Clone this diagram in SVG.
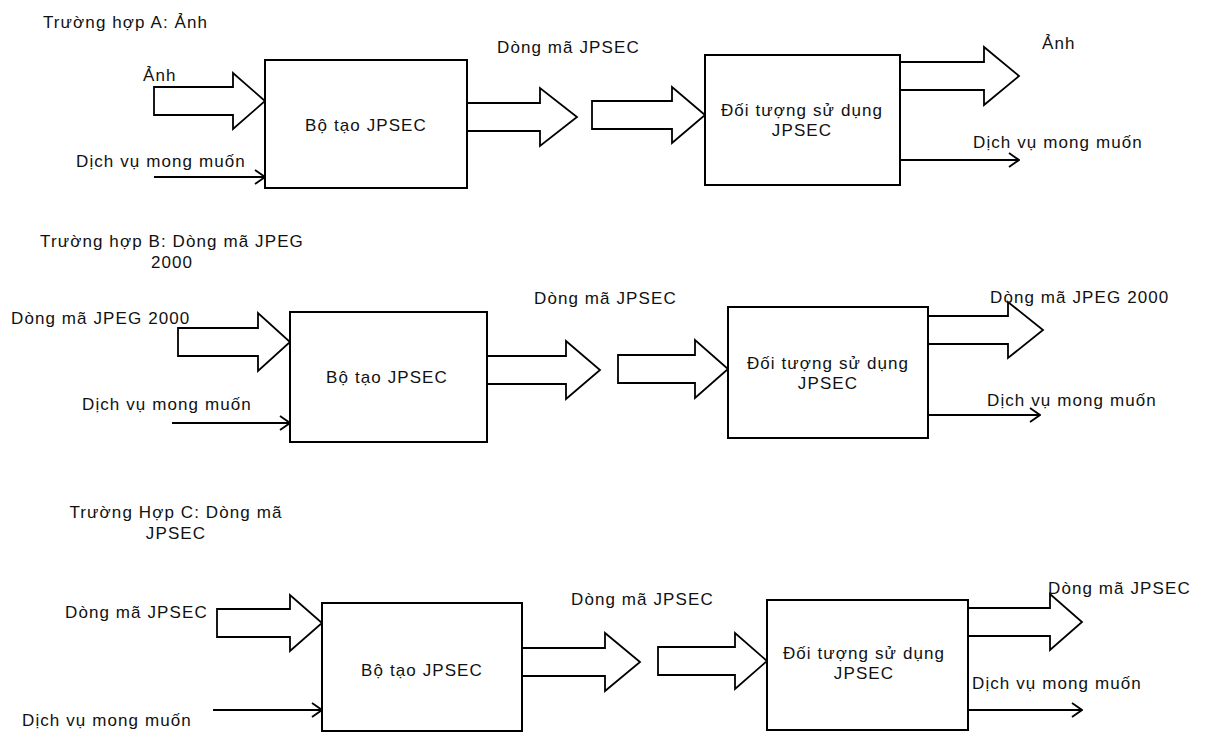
<svg xmlns="http://www.w3.org/2000/svg" width="1211" height="733" viewBox="0 0 1211 733">
<defs>
<marker id="chev" viewBox="0 0 12 16" refX="11" refY="8" markerWidth="12" markerHeight="16" markerUnits="userSpaceOnUse" orient="auto">
<polyline points="1,1 11,8 1,15" fill="none" stroke="#000" stroke-width="1.8"/>
</marker>
<style>
text{font-family:"Liberation Sans",Arial,sans-serif;font-size:17px;fill:#111;letter-spacing:1.1px}
.box{fill:#fff;stroke:#000;stroke-width:2}
.big{fill:#fff;stroke:#000;stroke-width:1.8;stroke-linejoin:miter}
.thin{stroke:#000;stroke-width:2;fill:none;marker-end:url(#chev)}
.m{text-anchor:middle}
</style>
</defs>
<rect width="1211" height="733" fill="#fff"/>

<g id="titles">
<text x="43" y="28">Trường hợp A: Ảnh</text>
<text class="m" x="172" y="247">Trường hợp B: Dòng mã JPEG</text>
<text class="m" x="172" y="268">2000</text>
<text class="m" x="176" y="518">Trường Hợp C: Dòng mã</text>
<text class="m" x="176" y="539">JPSEC</text>
</g>

<g id="connectors">
<!-- Row A -->
<polygon class="big" points="154,87 233,87 233,73 265,101 233,129 233,115 154,115"/>
<polygon class="big" points="467,103 540,103 540,88 577,117 540,146 540,131 467,131"/>
<polygon class="big" points="592,101 672,101 672,87 705,115 672,143 672,129 592,129"/>
<polygon class="big" points="900,62 984,62 984,47 1019,76 984,105 984,90 900,90"/>
<line class="thin" x1="154" y1="177" x2="265" y2="177"/>
<line class="thin" x1="900" y1="160" x2="1019" y2="160"/>
<!-- Row B -->
<polygon class="big" points="178,328 258,328 258,313 290,342 258,371 258,356 178,356"/>
<polygon class="big" points="487,356 566,356 566,341 600,370 566,399 566,384 487,384"/>
<polygon class="big" points="618,355 695,355 695,340 728,369 695,398 695,383 618,383"/>
<polygon class="big" points="928,316 1008,316 1008,302 1043,330 1008,358 1008,344 928,344"/>
<line class="thin" x1="172" y1="423" x2="290" y2="423"/>
<line class="thin" x1="928" y1="415" x2="1040" y2="415"/>
<!-- Row C -->
<polygon class="big" points="217,609 290,609 290,595 322,623 290,651 290,637 217,637"/>
<polygon class="big" points="522,648 605,648 605,633 640,662 605,691 605,676 522,676"/>
<polygon class="big" points="658,647 735,647 735,633 767,661 735,689 735,675 658,675"/>
<polygon class="big" points="968,608 1050,608 1050,594 1082,622 1050,650 1050,636 968,636"/>
<line class="thin" x1="213" y1="710" x2="322" y2="710"/>
<line class="thin" x1="968" y1="710" x2="1082" y2="710"/>
</g>

<g id="labels">
<text x="143" y="81">Ảnh</text>
<text x="76" y="167">Dịch vụ mong muốn</text>
<text x="497" y="53">Dòng mã JPSEC</text>
<text x="1042" y="49">Ảnh</text>
<text x="973" y="148">Dịch vụ mong muốn</text>

<text x="11" y="324">Dòng mã JPEG 2000</text>
<text x="82" y="410">Dịch vụ mong muốn</text>
<text x="534" y="304">Dòng mã JPSEC</text>
<text x="990" y="303">Dòng mã JPEG 2000</text>
<text x="987" y="406">Dịch vụ mong muốn</text>

<text x="65" y="618">Dòng mã JPSEC</text>
<text x="22" y="726">Dịch vụ mong muốn</text>
<text x="571" y="605">Dòng mã JPSEC</text>
<text x="1048" y="594">Dòng mã JPSEC</text>
<text x="972" y="689">Dịch vụ mong muốn</text>
</g>

<g id="genA">
<rect class="box" x="265" y="60" width="202" height="128"/>
<text class="m" x="366" y="131">Bộ tạo JPSEC</text>
</g>
<g id="userA">
<rect class="box" x="705" y="55" width="195" height="130"/>
<text class="m" x="802" y="116">Đối tượng sử dụng</text>
<text class="m" x="802" y="136">JPSEC</text>
</g>
<g id="genB">
<rect class="box" x="290" y="312" width="197" height="130"/>
<text class="m" x="387" y="383">Bộ tạo JPSEC</text>
</g>
<g id="userB">
<rect class="box" x="728" y="307" width="200" height="131"/>
<text class="m" x="828" y="369">Đối tượng sử dụng</text>
<text class="m" x="828" y="389">JPSEC</text>
</g>
<g id="genC">
<rect class="box" x="322" y="603" width="200" height="128"/>
<text class="m" x="422" y="676">Bộ tạo JPSEC</text>
</g>
<g id="userC">
<rect class="box" x="767" y="600" width="201" height="130"/>
<text class="m" x="864" y="659">Đối tượng sử dụng</text>
<text class="m" x="864" y="679">JPSEC</text>
</g>
</svg>
